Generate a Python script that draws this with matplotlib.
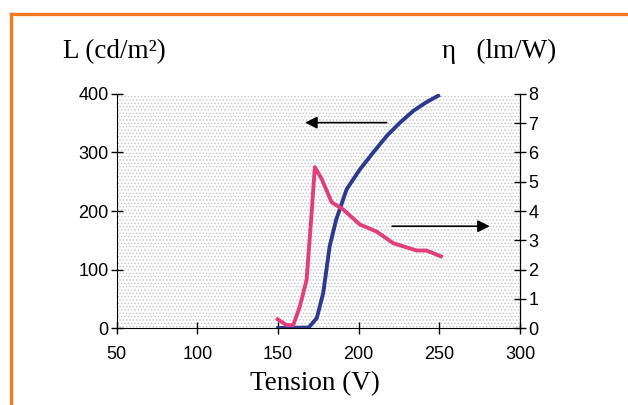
import matplotlib.pyplot as plt
from matplotlib.patches import Rectangle
from matplotlib.lines import Line2D

# luminance L (cd/m2) vs tension
v_L = [150, 169, 174, 178, 182, 186, 192.5, 200.7, 209, 217.3, 225.6, 233.8, 242, 249.3]
L = [0, 1, 17, 60, 140, 185, 237, 271, 300, 328, 351, 371, 386, 397]

# efficacy eta (lm/W) vs tension
v_eta = [149.7, 155.3, 159.4, 163.5, 167.7, 170.8, 172.8, 177, 183.2, 190.4, 200.7, 211, 221.4, 235.9, 242, 251]
eta = [0.3, 0.1, 0.1, 0.74, 1.65, 3.94, 5.5, 5.1, 4.3, 4.05, 3.54, 3.3, 2.9, 2.65, 2.65, 2.45]

xticks = [50, 100, 150, 200, 250, 300]
Lticks = [0, 100, 200, 300, 400]
eta_ticks = [0, 1, 2, 3, 4, 5, 6, 7, 8]

plt.rcParams['hatch.linewidth'] = 0.6

fig = plt.figure(figsize=(6.28, 4.05), dpi=100)
ax = fig.add_axes([0.186, 0.19, 0.642, 0.578])
ax2 = ax.twinx()

# dotted background
ax.add_patch(Rectangle((0, 0), 1, 1, transform=ax.transAxes, facecolor='white',
                       edgecolor='#c4c4c4', hatch='.....', linewidth=0, zorder=0))

ax.plot(v_L, L, color='#2b3a8f', lw=2.8, zorder=3)
ax2.plot(v_eta, eta, color='#e0407a', lw=2.8, zorder=3)

ax.set_xlim(50, 300)
ax.set_ylim(0, 400)
ax2.set_ylim(0, 8)
ax.set_xticks(xticks)
ax.set_yticks(Lticks)
ax2.set_yticks(eta_ticks)

for a in (ax, ax2):
    a.spines['top'].set_visible(False)
    a.tick_params(direction='inout', length=8, width=1, labelsize=13, pad=2)
    for lab in a.get_xticklabels() + a.get_yticklabels():
        lab.set_family('Liberation Sans')
ax.tick_params(axis='x', pad=9)
ax2.spines['left'].set_visible(False)
ax2.spines['bottom'].set_visible(False)

# arrows
ax.annotate('', xy=(165, 351), xytext=(219, 351),
            arrowprops=dict(arrowstyle='-|>', color='black', lw=1.2, mutation_scale=18))
ax.annotate('', xy=(283, 174), xytext=(219, 174),
            arrowprops=dict(arrowstyle='-|>', color='black', lw=1.2, mutation_scale=18))

fig.text(0.1, 0.872, 'L (cd/m²)', family='Liberation Serif', fontsize=19.5, va='center')
fig.text(0.704, 0.872, 'η   (lm/W)', family='Liberation Serif', fontsize=19.5, va='center')
fig.text(0.502, 0.052, 'Tension (V)', family='Liberation Serif', fontsize=19.5, ha='center', va='center')

# orange frame
fig.add_artist(Line2D([0.018, 1], [0.965, 0.965], transform=fig.transFigure, color='#f47920', lw=2.4))
fig.add_artist(Line2D([0.018, 0.018], [0, 0.965], transform=fig.transFigure, color='#f47920', lw=2.4))

fig.savefig('out.png', dpi=100)
